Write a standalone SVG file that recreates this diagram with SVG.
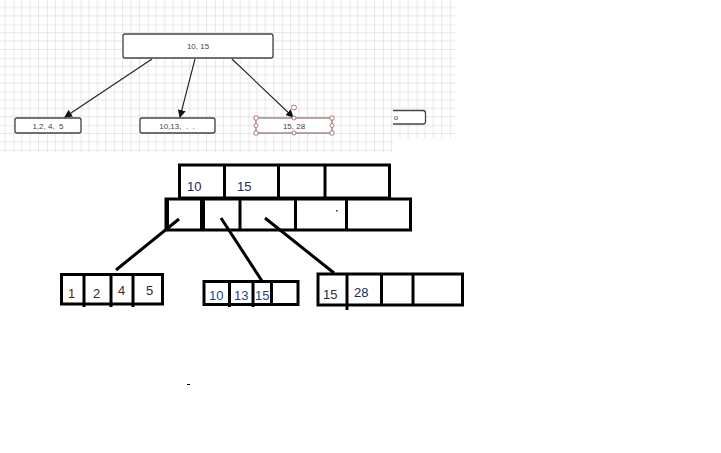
<svg xmlns="http://www.w3.org/2000/svg" width="721" height="453" viewBox="0 0 721 453">
<defs>
<pattern id="grid" patternUnits="userSpaceOnUse" width="33.6" height="33.6" patternTransform="translate(13.4,24.3)">
<path d="M8.4 0V33.6M16.8 0V33.6M25.2 0V33.6M0 8.4H33.6M0 16.8H33.6M0 25.2H33.6" stroke="#e6e6e6" stroke-width="1" fill="none"/>
<path d="M0 0V33.6M0 0H33.6" stroke="#dadada" stroke-width="1.2" fill="none"/>
</pattern>
<marker id="ah" markerWidth="8" markerHeight="8" refX="7" refY="4" orient="auto" markerUnits="userSpaceOnUse">
<path d="M0 0L8 4L0 8Z" fill="#111"/>
</marker>
<style>
.dn{fill:#fff;stroke:#444;stroke-width:1.3}
.dt{font-family:"Liberation Sans",Arial,sans-serif;font-size:8px;fill:#444;text-anchor:middle;white-space:pre}
.edge{stroke:#222;stroke-width:1.1;fill:none;marker-end:url(#ah)}
.h{fill:#fff;stroke:#b07878;stroke-width:1}
.p{fill:none;stroke:#000;stroke-width:3}
.pl{stroke:#000;stroke-width:3;fill:none}
.pt{font-family:"Liberation Sans",Arial,sans-serif;font-size:13px}
</style>
</defs>
<rect width="721" height="453" fill="#fff"/>
<rect x="0" y="0" width="393" height="152" fill="url(#grid)"/>
<rect x="393" y="0" width="62" height="138" fill="url(#grid)"/>

<g id="connectors">
<line class="edge" x1="152" y1="59" x2="65" y2="117"/>
<line class="edge" x1="195" y1="59" x2="180" y2="117"/>
<line class="edge" x1="232" y1="59" x2="293" y2="117"/>
<line class="pl" x1="179" y1="219" x2="116" y2="270"/>
<line class="pl" x1="221" y1="218" x2="262" y2="281"/>
<line class="pl" x1="265" y1="218" x2="334" y2="273"/>
</g>

<g id="root">
<rect class="dn" x="123" y="34" width="150" height="24" rx="2"/>
<text class="dt" x="198" y="48.5">10, 15</text>
</g>
<g id="child1">
<rect class="dn" x="15" y="118" width="66" height="15" rx="2"/>
<text class="dt" x="48" y="128.5" xml:space="preserve">1,2, 4,  5</text>
</g>
<g id="child2">
<rect class="dn" x="140" y="118" width="75" height="15" rx="2"/>
<text class="dt" x="177" y="128.5" xml:space="preserve">10,13,  .  .</text>
</g>
<g id="child3">
<rect x="256" y="118" width="76" height="15" fill="#fff" stroke="#7a5050" stroke-width="1"/>
<text class="dt" x="294" y="128.5">15, 28</text>
<rect class="h" x="254" y="116" width="4" height="4" rx="1"/>
<rect class="h" x="330" y="116" width="4" height="4" rx="1"/>
<rect class="h" x="254" y="131" width="4" height="4" rx="1"/>
<rect class="h" x="330" y="131" width="4" height="4" rx="1"/>
<circle class="h" cx="294" cy="118" r="2"/>
<circle class="h" cx="294" cy="133" r="2"/>
<circle class="h" cx="256" cy="125.5" r="2"/>
<circle class="h" cx="332" cy="125.5" r="2"/>
<circle class="h" cx="294" cy="107.5" r="2.5"/>
</g>
<g id="partial">
<path d="M393 110.5H423Q425.5 110.5 425.5 113V121.5Q425.5 124 423 124H393" fill="#fff" stroke="#444" stroke-width="1.3"/>
<text class="dt" x="396" y="119.5">o</text>
</g>

<g id="paint-root-top">
<rect class="p" x="179.5" y="165" width="210" height="33"/>
<line class="pl" x1="224.5" y1="165" x2="224.5" y2="198"/>
<line class="pl" x1="278.5" y1="165" x2="278.5" y2="198"/>
<line class="pl" x1="325" y1="165" x2="325" y2="198"/>
<text class="pt" x="187" y="191" fill="#1a2850">10</text>
<text class="pt" x="237" y="191" fill="#1a2850">15</text>
</g>
<g id="paint-root-bottom">
<rect class="p" x="166" y="199" width="244.5" height="31"/>
<line x1="167" y1="199" x2="167" y2="230" stroke="#000" stroke-width="4"/>
<line x1="202.5" y1="199" x2="202.5" y2="230" stroke="#000" stroke-width="5"/>
<line class="pl" x1="240" y1="199" x2="240" y2="230"/>
<line class="pl" x1="295.5" y1="199" x2="295.5" y2="230"/>
<line class="pl" x1="346.5" y1="199" x2="346.5" y2="230"/>
<rect x="336" y="210" width="1.5" height="1.5" fill="#333"/>
</g>
<g id="leaf1">
<rect class="p" x="61.5" y="274.5" width="101" height="29.5"/>
<line class="pl" x1="84" y1="274.5" x2="84" y2="307"/>
<line class="pl" x1="111" y1="274.5" x2="111" y2="307"/>
<line class="pl" x1="133" y1="274.5" x2="133" y2="307"/>
<text class="pt" x="68" y="298" fill="#4a2a10">1</text>
<text class="pt" x="93" y="298" fill="#2a2a30">2</text>
<text class="pt" x="118" y="295" fill="#4a2a10">4</text>
<text class="pt" x="146" y="295" fill="#2a2a30">5</text>
</g>
<g id="leaf2">
<rect class="p" x="204" y="281.5" width="94" height="23"/>
<line class="pl" x1="229.5" y1="281.5" x2="229.5" y2="307"/>
<line class="pl" x1="253" y1="281.5" x2="253" y2="307"/>
<line class="pl" x1="271.5" y1="281.5" x2="271.5" y2="304.5"/>
<text class="pt" x="209" y="300" fill="#1f3f8a">10</text>
<text class="pt" x="234" y="300" fill="#1f3f8a">13</text>
<text class="pt" x="255" y="300" fill="#1f3f8a">15</text>
</g>
<g id="leaf3">
<rect class="p" x="318" y="274" width="144.5" height="31"/>
<line class="pl" x1="347" y1="274" x2="347" y2="310"/>
<line class="pl" x1="381.5" y1="274" x2="381.5" y2="305"/>
<line class="pl" x1="413" y1="274" x2="413" y2="305"/>
<text class="pt" x="323" y="299" fill="#2a2a40">15</text>
<text class="pt" x="354" y="297" fill="#1a2850">28</text>
</g>
<rect x="187" y="384" width="3" height="1" fill="#000"/>
</svg>
